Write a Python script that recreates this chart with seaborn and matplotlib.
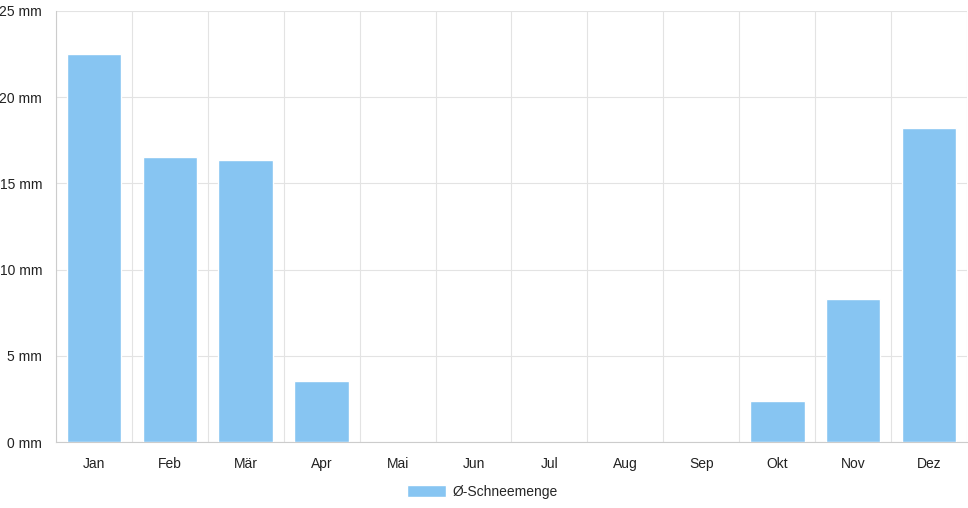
import numpy as np
import seaborn as sns
import matplotlib.pyplot as plt
import pandas as pd

months = ["Jan", "Feb", "Mär", "Apr", "Mai", "Jun", "Jul", "Aug", "Sep", "Okt", "Nov", "Dez"]
snow_mm = [22.5, 16.55, 16.35, 3.55, 0, 0, 0, 0, 0, 2.35, 8.3, 18.2]
y_ticks = [0, 5, 10, 15, 20, 25]

df = pd.DataFrame({"Monat": months, "Schnee": snow_mm})

sns.set_style("white")
plt.rcParams["font.family"] = ["Liberation Sans", "DejaVu Sans"]

fig = plt.figure(figsize=(9.68, 5.08), dpi=100)
ax = fig.add_axes([56 / 968, 66 / 508, 911 / 968, 431 / 508])

bar_col = "#87c5f2"
sns.barplot(data=df, x="Monat", y="Schnee", color=bar_col, saturation=1,
            width=0.72, ax=ax, zorder=3, label="Ø-Schneemenge")

ax.set_ylim(0, 25)
ax.set_xlim(-0.5, 11.5)
ax.set_yticks(y_ticks)
ax.set_yticklabels([f"{t} mm" for t in y_ticks])
ax.set_xticks(np.arange(len(months) + 1) - 0.5, minor=True)
ax.set_xticks(np.arange(len(months)))
ax.set_xticklabels(months)
ax.set_xlabel("")
ax.set_ylabel("")

grid_col = "#e3e3e3"
ax.grid(axis="y", color=grid_col, lw=0.8, zorder=0)
ax.grid(axis="x", which="minor", color=grid_col, lw=0.8, zorder=0)
ax.tick_params(axis="x", which="major", length=0, labelsize=10, pad=11, colors="#222222")
ax.tick_params(axis="x", which="minor", length=8, color=grid_col)
ax.tick_params(axis="y", length=8, color=grid_col, labelsize=10, pad=2, colors="#222222")
ax.tick_params(axis="y", color=grid_col)

for side in ["top", "right"]:
    ax.spines[side].set_visible(False)
for side in ["left", "bottom"]:
    ax.spines[side].set_color("#cccccc")
    ax.spines[side].set_linewidth(0.8)

ax.legend(loc="upper center", bbox_to_anchor=(0.468, -0.07), frameon=False,
          fontsize=10, handlelength=2.8, handleheight=1.0, handletextpad=0.5)

fig.savefig("out.png", dpi=100)
